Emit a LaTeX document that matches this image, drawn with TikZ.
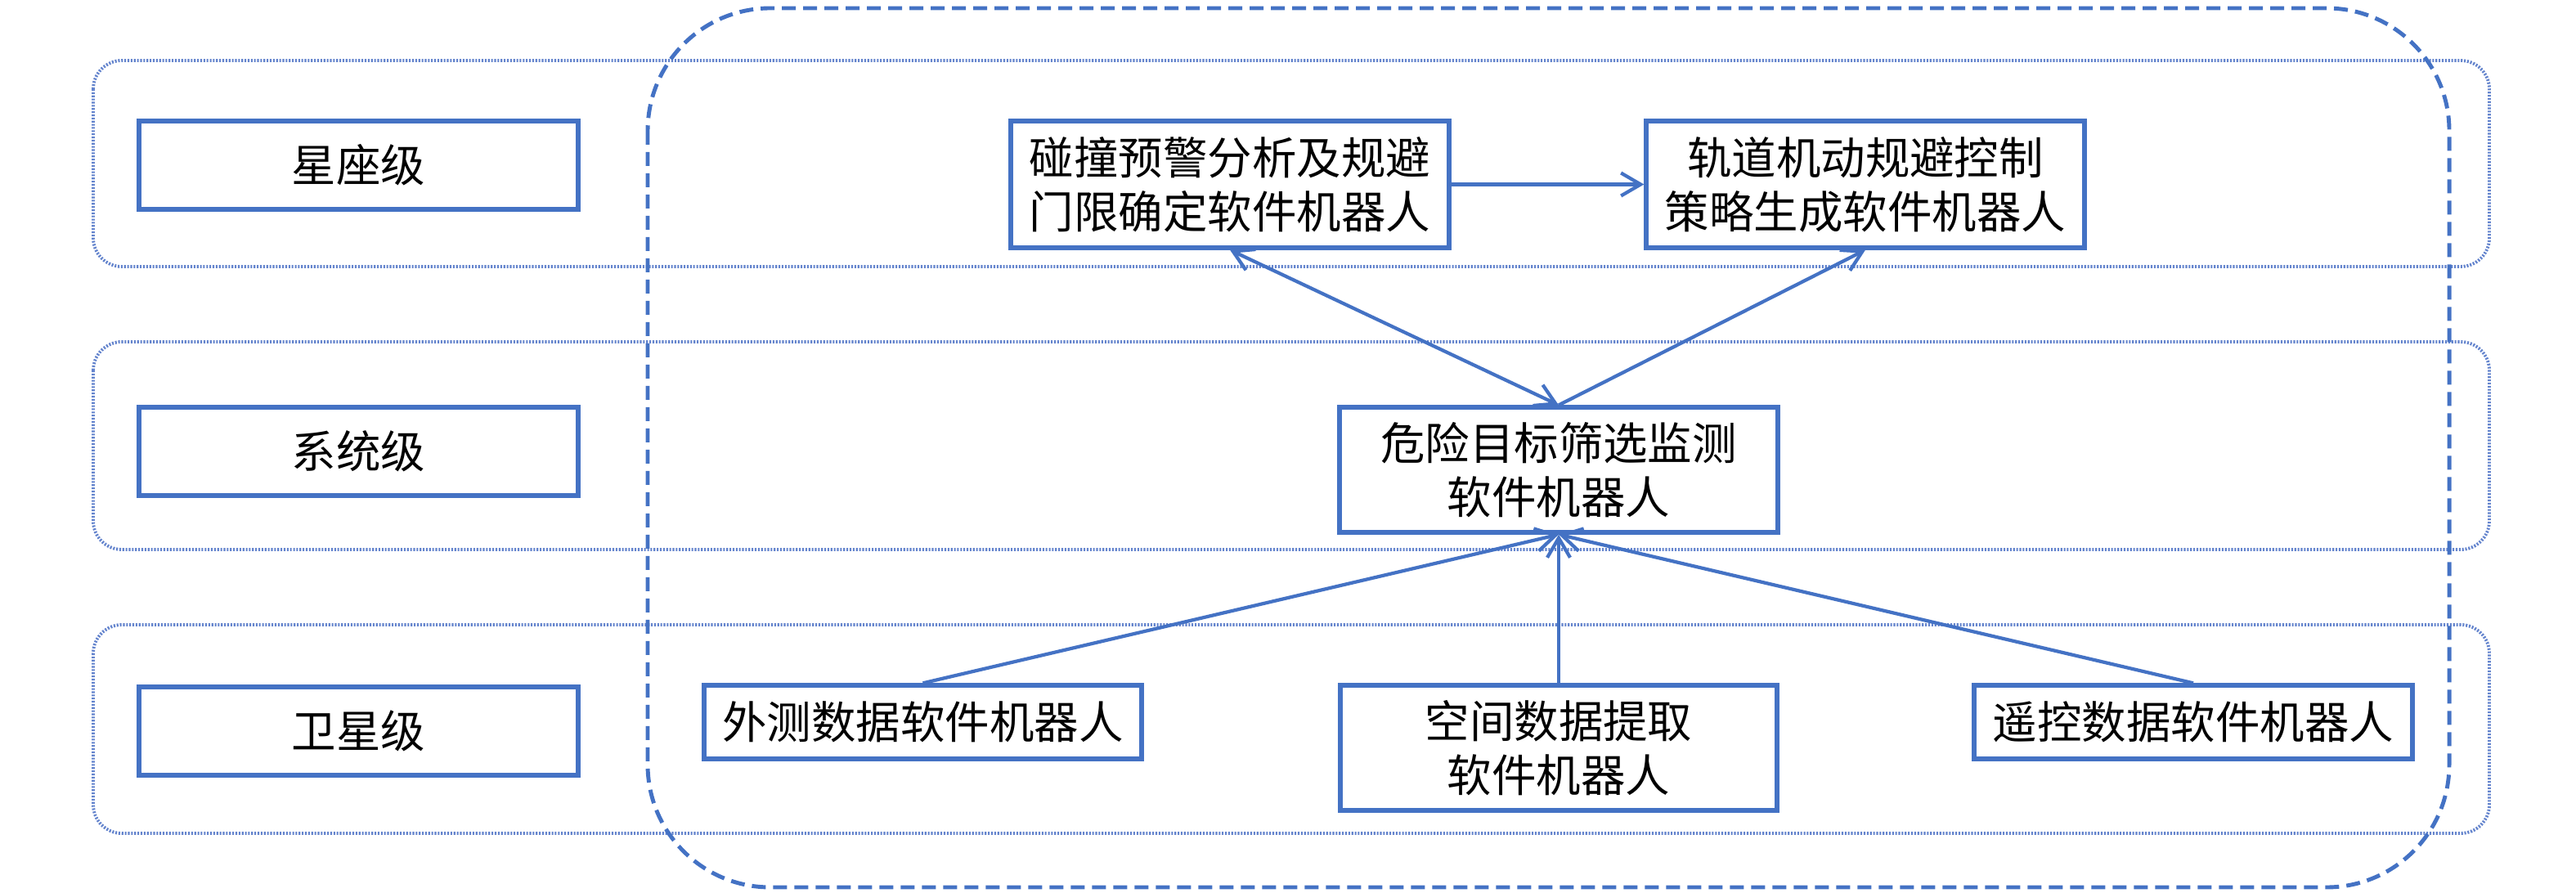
\documentclass[tikz,border=0pt]{standalone}
\usepackage{fontspec}
\newfontfamily\cjkfont{Noto Sans CJK SC}
\usetikzlibrary{arrows.meta}
\definecolor{lineblue}{RGB}{68,114,196}
\definecolor{bandblue}{RGB}{100,132,205}
\begin{document}
\begin{tikzpicture}[
        box/.style={draw=lineblue,line width=1.5pt,fill=white,align=center,inner sep=0pt,
            font=\cjkfont\fontsize{15.5}{18.8}\selectfont},
        band/.style={draw=bandblue,line width=1.1pt,dash pattern=on 0.6pt off 0.5pt,rounded corners=0.35cm},
        conn/.style={draw=lineblue,line width=1.2pt},
        >={Straight Barb[length=2.4mm,width=2.8mm]}]
    \useasboundingbox (0,0) rectangle (31.5,-10.92);
    % levels
    \draw[band] (1.14,-0.74) rectangle (30.44,-3.26);
    \draw[band] (1.14,-4.18) rectangle (30.44,-6.72);
    \draw[band] (1.14,-7.64) rectangle (30.44,-10.19);
    \draw[lineblue,line width=1.4pt,dash pattern=on 0.17cm off 0.09cm,rounded corners=1.5cm]
        (7.92,-0.10) rectangle (29.95,-10.85);
    \node[box,minimum width=5.37cm,minimum height=1.08cm] (L1) at (4.385,-2.02) {星座级};
    \node[box,minimum width=5.37cm,minimum height=1.08cm] (L2) at (4.385,-5.52) {系统级};
    \node[box,minimum width=5.37cm,minimum height=1.08cm] (L3) at (4.385,-8.94) {卫星级};
    % robots
    \node[box,minimum width=5.36cm,minimum height=1.55cm] (P) at (15.04,-2.255) {碰撞预警分析及规避\\门限确定软件机器人};
    \node[box,minimum width=5.36cm,minimum height=1.55cm] (G) at (22.81,-2.255) {轨道机动规避控制\\策略生成软件机器人};
    \node[box,minimum width=5.36cm,minimum height=1.53cm] (W) at (19.06,-5.745) {危险目标筛选监测\\软件机器人};
    \node[box,minimum width=5.35cm,minimum height=0.90cm] (E) at (11.285,-8.83) {外测数据软件机器人};
    \node[box,minimum width=5.34cm,minimum height=1.53cm] (K) at (19.06,-9.145) {空间数据提取\\软件机器人};
    \node[box,minimum width=5.36cm,minimum height=0.90cm] (Y) at (26.82,-8.83) {遥控数据软件机器人};
    \draw[conn,->] (P) -- (G);
    \draw[conn,<->] (P.south) -- (W.north);
    \draw[conn,->] (W.north) -- (G.south);
    \draw[conn,->] (E.north) -- (W.south);
    \draw[conn,->] (K.north) -- (W.south);
    \draw[conn,->] (Y.north) -- (W.south);
\end{tikzpicture}
\end{document}
